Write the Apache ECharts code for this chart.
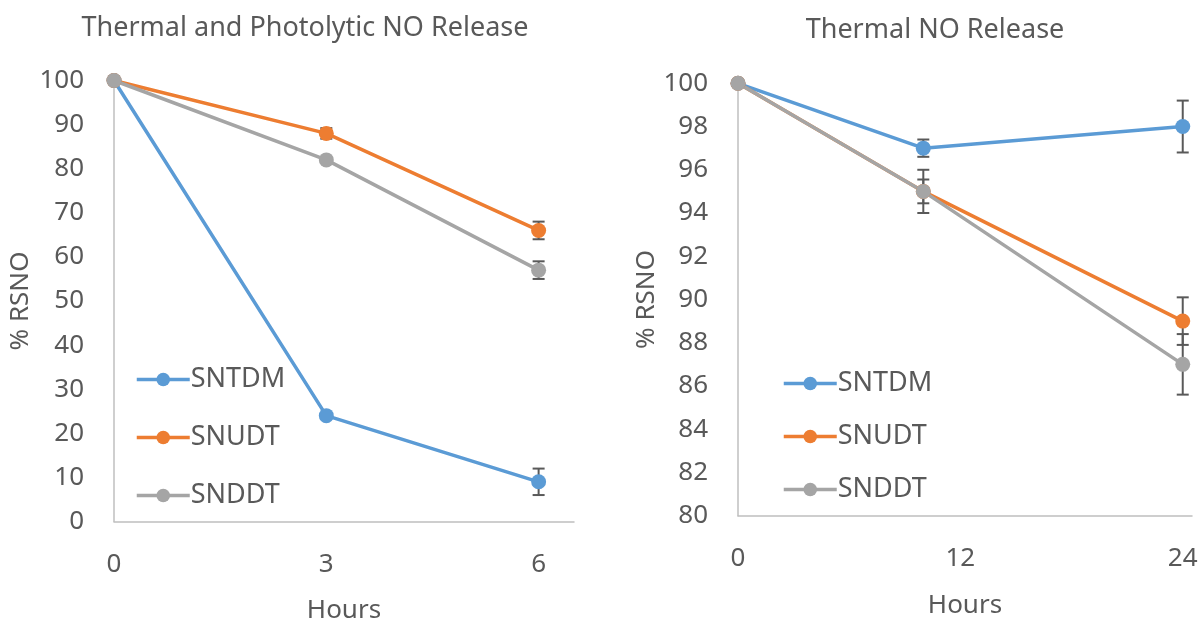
<!DOCTYPE html>
<html>
<head>
<meta charset="utf-8">
<script src="https://cdn.jsdelivr.net/npm/echarts@6/dist/echarts.min.js"></script>
<style>
  html, body { margin: 0; padding: 0; background: #fff; }
  #main { width: 1201px; height: 622px; }
</style>
</head>
<body>
<div id="main"></div>
<script>
// left panel: thermal + photolytic
var leftHours = [0, 3, 6];
var leftSNTDM = [100, 24, 9];
var leftSNTDMErr = [0, 0.5, 3];
var leftSNUDT = [100, 88, 66];
var leftSNUDTErr = [0, 1.2, 2];
var leftSNDDT = [100, 82, 57];
var leftSNDDTErr = [0, 0.5, 2];

// right panel: thermal only
var rightHours = [0, 10, 24];
var rightSNTDM = [100, 97, 98];
var rightSNTDMErr = [0, 0.4, 1.2];
var rightSNUDT = [100, 95, 89];
var rightSNUDTErr = [0, 1.0, 1.1];
var rightSNDDT = [100, 95, 87];
var rightSNDDTErr = [0, 0.55, 1.4];

var names = ['SNTDM', 'SNUDT', 'SNDDT'];
var colors = ['#5B9BD5', '#ED7D31', '#A5A5A5'];
var textColor = '#595959';
var fontFam = 'Noto Sans';

function pairs(xs, ys) {
  return xs.map(function (x, i) { return [x, ys[i]]; });
}

function lineSeries(name, idx, xs, ys, axisIdx) {
  return {
    name: name,
    type: 'line',
    xAxisIndex: axisIdx,
    yAxisIndex: axisIdx,
    data: pairs(xs, ys),
    symbol: 'circle',
    symbolSize: 15,
    color: colors[idx],
    lineStyle: { width: 3.5, color: colors[idx] },
    itemStyle: { color: colors[idx] },
    z: 3,
    animation: false
  };
}

function errSeries(xs, ys, errs, axisIdx) {
  var d = xs.map(function (x, i) { return [x, ys[i] - errs[i], ys[i] + errs[i]]; });
  return {
    type: 'custom',
    xAxisIndex: axisIdx,
    yAxisIndex: axisIdx,
    data: d,
    z: 2,
    silent: true,
    animation: false,
    renderItem: function (params, api) {
      var lo = api.coord([api.value(0), api.value(1)]);
      var hi = api.coord([api.value(0), api.value(2)]);
      if (Math.abs(lo[1] - hi[1]) < 1) return null;
      var w = 6;
      var st = { stroke: '#595959', lineWidth: 2 };
      return {
        type: 'group',
        children: [
          { type: 'line', shape: { x1: lo[0], y1: lo[1], x2: hi[0], y2: hi[1] }, style: st },
          { type: 'line', shape: { x1: lo[0] - w, y1: lo[1], x2: lo[0] + w, y2: lo[1] }, style: st },
          { type: 'line', shape: { x1: hi[0] - w, y1: hi[1], x2: hi[0] + w, y2: hi[1] }, style: st }
        ]
      };
    }
  };
}

function xAxisCfg(idx, max, interval, gap, margin) {
  return {
    type: 'value',
    gridIndex: idx,
    min: 0,
    max: max,
    interval: interval,
    name: 'Hours',
    nameLocation: 'middle',
    nameGap: gap,
    nameTextStyle: { color: textColor, fontSize: 26, fontFamily: fontFam },
    splitLine: { show: false },
    axisTick: { show: false },
    axisLine: { lineStyle: { color: '#BFBFBF', width: 1.5 } },
    axisLabel: {
      color: textColor, fontSize: 26, fontFamily: fontFam, margin: margin,
      formatter: function (v) { return v % interval === 0 ? String(v) : ''; }
    }
  };
}

function yAxisCfg(idx, min, max, interval, gap) {
  return {
    type: 'value',
    gridIndex: idx,
    min: min,
    max: max,
    interval: interval,
    name: '% RSNO',
    nameLocation: 'middle',
    nameRotate: 90,
    nameGap: gap,
    nameTextStyle: { color: textColor, fontSize: 26, fontFamily: fontFam },
    splitLine: { show: false },
    axisTick: { show: false },
    axisLine: { show: true, lineStyle: { color: '#BFBFBF', width: 1.5 } },
    axisLabel: { color: textColor, fontSize: 26, fontFamily: fontFam, margin: 30 }
  };
}

function legendCfg(left, top, gap) {
  return {
    data: names,
    orient: 'vertical',
    left: left,
    top: top,
    itemWidth: 53,
    itemHeight: 17,
    itemGap: gap,
    lineStyle: { width: 3.5 },
    textStyle: { color: textColor, fontSize: 27, fontFamily: fontFam, padding: [0, 0, 0, -4] },
    selectedMode: false
  };
}

var chart = echarts.init(document.getElementById('main'));
var option = {
  backgroundColor: '#ffffff',
  title: [
    { text: 'Thermal and Photolytic NO Release', left: 300, top: 10, textAlign: 'center',
      textStyle: { color: textColor, fontSize: 27, fontWeight: 'normal', fontFamily: fontFam } },
    { text: 'Thermal NO Release', left: 930, top: 12, textAlign: 'center',
      textStyle: { color: textColor, fontSize: 27, fontWeight: 'normal', fontFamily: fontFam } }
  ],
  legend: [legendCfg(130, 361, 31), legendCfg(777, 365, 26)],
  grid: [
    { left: 114, top: 80.5, width: 460, height: 441, outerBoundsMode: 'none' },
    { left: 738, top: 83.3, width: 454, height: 432.4, outerBoundsMode: 'none' }
  ],
  xAxis: [xAxisCfg(0, 6.5, 3, 76, 30), xAxisCfg(1, 24.5, 12, 77, 30)],
  yAxis: [yAxisCfg(0, 0, 100, 10, 80), yAxisCfg(1, 80, 100, 2, 78)],
  series: [
    errSeries(leftHours, leftSNTDM, leftSNTDMErr, 0),
    errSeries(leftHours, leftSNUDT, leftSNUDTErr, 0),
    errSeries(leftHours, leftSNDDT, leftSNDDTErr, 0),
    errSeries(rightHours, rightSNTDM, rightSNTDMErr, 1),
    errSeries(rightHours, rightSNUDT, rightSNUDTErr, 1),
    errSeries(rightHours, rightSNDDT, rightSNDDTErr, 1),
    lineSeries('SNTDM', 0, leftHours, leftSNTDM, 0),
    lineSeries('SNUDT', 1, leftHours, leftSNUDT, 0),
    lineSeries('SNDDT', 2, leftHours, leftSNDDT, 0),
    lineSeries('SNTDM', 0, rightHours, rightSNTDM, 1),
    lineSeries('SNUDT', 1, rightHours, rightSNUDT, 1),
    lineSeries('SNDDT', 2, rightHours, rightSNDDT, 1)
  ]
};
chart.setOption(option);
</script>
</body>
</html>
